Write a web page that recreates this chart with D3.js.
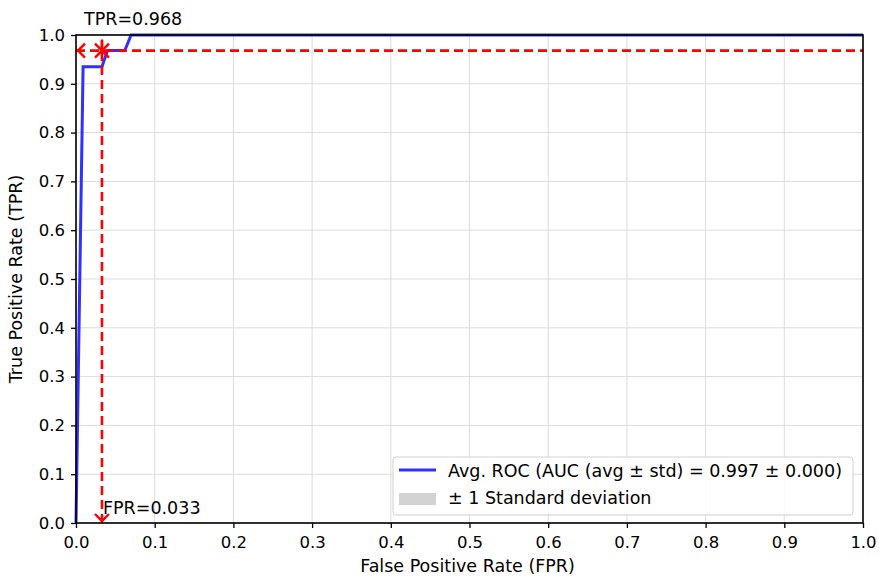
<!DOCTYPE html>
<html>
<head>
<meta charset="utf-8">
<script src="https://cdn.jsdelivr.net/npm/d3@7"></script>
<style>
  body { margin: 0; background: #fff; }
  text { font-family: "DejaVu Sans", sans-serif; }
</style>
</head>
<body>
<div id="chart"></div>
<script>
// data
const rocFpr = [0.0, 0.009, 0.033, 0.040, 0.062, 0.070, 1.0];
const rocTpr = [0.0, 0.935, 0.935, 0.968, 0.968, 1.0, 1.0];
const opFpr = 0.033;
const opTpr = 0.968;
const tickValues = [0, 0.1, 0.2, 0.3, 0.4, 0.5, 0.6, 0.7, 0.8, 0.9, 1.0];
const legendLabels = ["Avg. ROC (AUC (avg \u00b1 std) = 0.997 \u00b1 0.000)", "\u00b1 1 Standard deviation"];

const margin = { top: 35, right: 16, bottom: 54, left: 76 };
const width = 879 - margin.left - margin.right;
const height = 577 - margin.top - margin.bottom;
const fs = 17.5;

const svg = d3.select("#chart")
    .append("svg")
    .attr("width", 879)
    .attr("height", 577)
    .append("g")
    .attr("transform", `translate(${margin.left},${margin.top})`);

const x = d3.scaleLinear().domain([0, 1]).range([0, width]);
const y = d3.scaleLinear().domain([0, 1]).range([height, 0]);

// grid
svg.append("g").selectAll("line").data(tickValues).enter().append("line")
    .attr("x1", d => x(d)).attr("x2", d => x(d))
    .attr("y1", 0).attr("y2", height)
    .attr("stroke", "#dcdcdc").attr("stroke-width", 1);
svg.append("g").selectAll("line").data(tickValues).enter().append("line")
    .attr("y1", d => y(d)).attr("y2", d => y(d))
    .attr("x1", 0).attr("x2", width)
    .attr("stroke", "#dcdcdc").attr("stroke-width", 1);

// roc line
const pts = rocFpr.map((f, i) => ({ fpr: f, tpr: rocTpr[i] }));
const line = d3.line().x(d => x(d.fpr)).y(d => y(d.tpr));
svg.append("path")
    .datum(pts)
    .attr("fill", "none")
    .attr("stroke", "#3030ff")
    .attr("stroke-width", 3)
    .attr("d", line);

// operating point guides
const red = "#ff0000";
svg.append("line")
    .attr("x1", x(0)).attr("x2", x(1))
    .attr("y1", y(opTpr)).attr("y2", y(opTpr))
    .attr("stroke", red).attr("stroke-width", 2.6).attr("stroke-dasharray", "9,5");
svg.append("line")
    .attr("x1", x(opFpr)).attr("x2", x(opFpr))
    .attr("y1", y(0)).attr("y2", y(opTpr) - 10)
    .attr("stroke", red).attr("stroke-width", 2.6).attr("stroke-dasharray", "9,5");

// x marker at operating point
const mx = x(opFpr), my = y(opTpr);
svg.append("path")
    .attr("d", `M${mx - 7},${my - 7}L${mx + 7},${my + 7}M${mx - 7},${my + 7}L${mx + 7},${my - 7}M${mx},${my - 11}L${mx},${my + 4}`)
    .attr("stroke", red).attr("stroke-width", 2.4);

// left arrow head at y axis
svg.append("path")
    .attr("d", `M${x(0) + 9},${my - 7}L${x(0) + 2},${my}L${x(0) + 9},${my + 7}`)
    .attr("fill", "none").attr("stroke", red).attr("stroke-width", 2.4);
// down arrow head at x axis
svg.append("path")
    .attr("d", `M${mx - 7},${y(0) - 9}L${mx},${y(0) - 2}L${mx + 7},${y(0) - 9}`)
    .attr("fill", "none").attr("stroke", red).attr("stroke-width", 2.4);

// annotations
svg.append("text")
    .attr("x", x(0) + 8).attr("y", -10)
    .attr("font-size", fs)
    .text("TPR=" + opTpr.toFixed(3));
svg.append("text")
    .attr("x", mx + 1).attr("y", y(0) - 9)
    .attr("font-size", fs)
    .text("FPR=" + opFpr.toFixed(3));

// axes
const fmt = d3.format(".1f");
const xAxis = svg.append("g")
    .attr("transform", `translate(0,${height})`)
    .call(d3.axisBottom(x).tickValues(tickValues).tickFormat(fmt).tickSize(5).tickPadding(8));
const yAxis = svg.append("g")
    .call(d3.axisLeft(y).tickValues(tickValues).tickFormat(fmt).tickSize(5).tickPadding(6));
[xAxis, yAxis].forEach(a => {
    a.select(".domain").remove();
    a.selectAll("text").attr("font-size", 16.5).attr("font-family", "DejaVu Sans").attr("fill", "#000");
    a.selectAll("line").attr("stroke", "#000").attr("stroke-width", 1.3);
});

// frame
svg.append("rect")
    .attr("x", 0).attr("y", 0).attr("width", width).attr("height", height)
    .attr("fill", "none").attr("stroke", "#000").attr("stroke-width", 1.6);

// axis labels
svg.append("text")
    .attr("x", width / 2 - 2).attr("y", height + 49)
    .attr("text-anchor", "middle").attr("font-size", fs)
    .text("False Positive Rate (FPR)");
svg.append("text")
    .attr("transform", `translate(${-54},${height / 2}) rotate(-90)`)
    .attr("text-anchor", "middle").attr("font-size", fs)
    .text("True Positive Rate (TPR)");

// legend
const lg = svg.append("g").attr("transform", `translate(${393 - margin.left},${457 - margin.top})`);
lg.append("rect")
    .attr("width", 460).attr("height", 58).attr("rx", 3)
    .attr("fill", "#fff").attr("fill-opacity", 0.85)
    .attr("stroke", "#d0d0d0").attr("stroke-width", 1);
lg.append("line")
    .attr("x1", 6).attr("x2", 43).attr("y1", 13).attr("y2", 13)
    .attr("stroke", "#3030ff").attr("stroke-width", 3);
lg.append("rect")
    .attr("x", 6).attr("y", 36).attr("width", 37).attr("height", 12)
    .attr("fill", "#d3d3d3");
lg.selectAll("text.lbl").data(legendLabels).enter().append("text")
    .attr("class", "lbl")
    .attr("x", 55).attr("y", (d, i) => 20 + i * 27)
    .attr("font-size", fs)
    .text(d => d);
</script>
</body>
</html>
